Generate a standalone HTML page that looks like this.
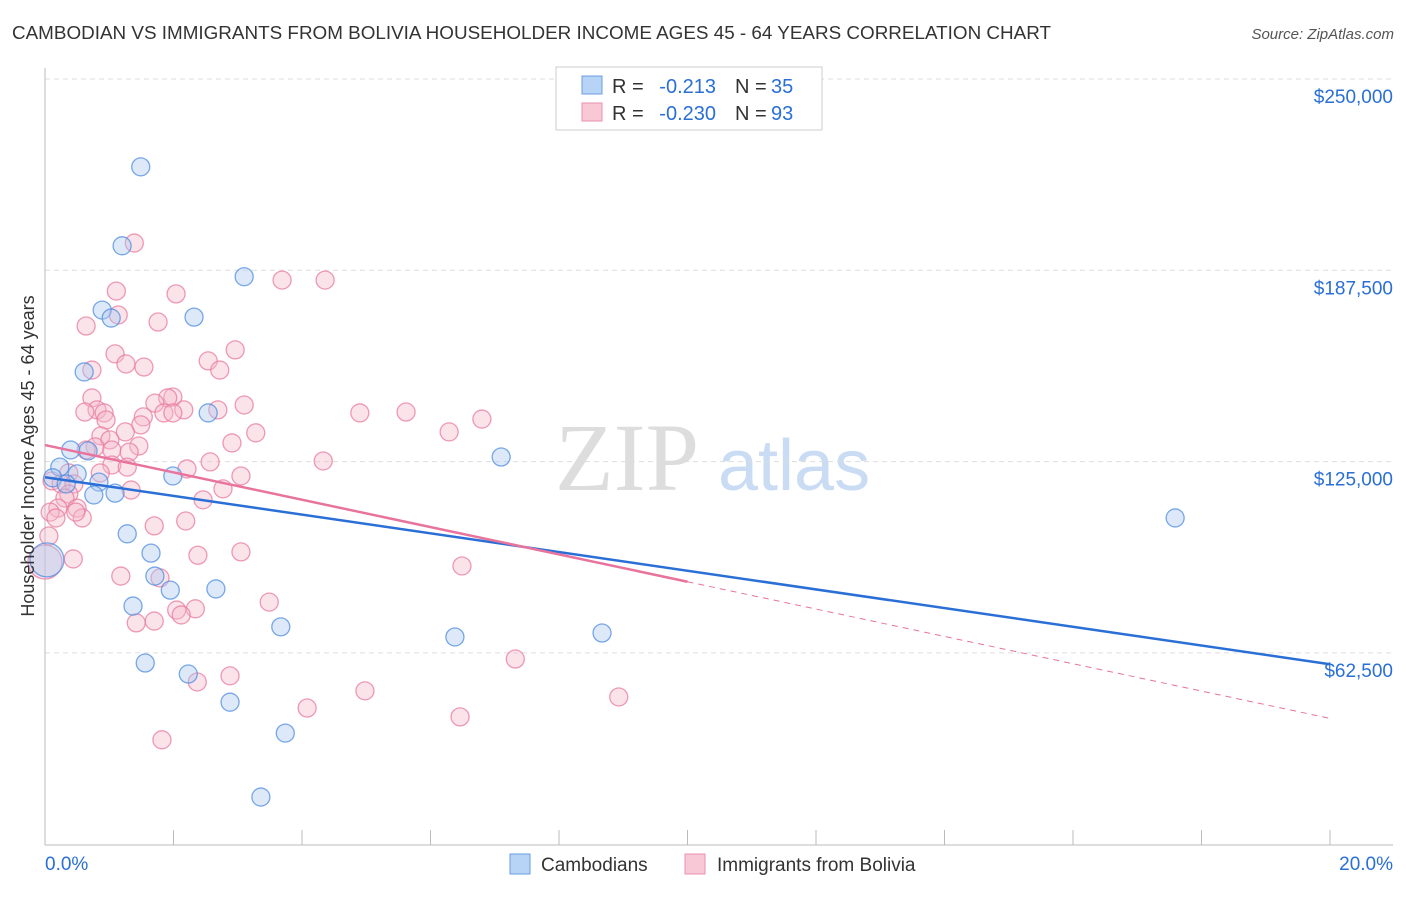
<!DOCTYPE html>
<html><head><meta charset="utf-8"><style>
body{margin:0;background:#fff;font-family:"Liberation Sans",sans-serif;}
</style></head><body>
<svg id="chart" width="1406" height="892" xmlns="http://www.w3.org/2000/svg" font-family="Liberation Sans, sans-serif">
<text x="12" y="39" font-size="18" fill="#333" textLength="1039" lengthAdjust="spacingAndGlyphs">CAMBODIAN VS IMMIGRANTS FROM BOLIVIA HOUSEHOLDER INCOME AGES 45 - 64 YEARS CORRELATION CHART</text>
<text x="1394" y="39" font-size="15" fill="#555" text-anchor="end" font-style="italic">Source: ZipAtlas.com</text>
<text x="555" y="490" font-size="96" fill="#ddd" font-family="Liberation Serif, serif">ZIP</text>
<text x="718" y="490" font-size="72" fill="#c9dcf3">atlas</text>
<g id="grid"></g>
<g id="axes"></g>
<g id="points"></g>
<g id="lines"></g>
<text transform="translate(34,456) rotate(-90)" font-size="18" fill="#333" text-anchor="middle">Householder Income Ages 45 - 64 years</text>
<g>
<rect x="556" y="67" width="266" height="63" fill="#fff" stroke="#ccc"/>
<rect x="582" y="76" width="20" height="18" fill="#b7d3f5" stroke="#6a9fe0"/>
<rect x="582" y="103" width="20" height="18" fill="#f9c8d7" stroke="#e890b0"/>
<text x="612" y="93" font-size="20" fill="#333">R =</text>
<text x="716" y="93" font-size="20" fill="#2a6fd6" text-anchor="end">-0.213</text>
<text x="735" y="93" font-size="20" fill="#333">N =</text>
<text x="771" y="93" font-size="20" fill="#2a6fd6">35</text>
<text x="612" y="120" font-size="20" fill="#333">R =</text>
<text x="716" y="120" font-size="20" fill="#2a6fd6" text-anchor="end">-0.230</text>
<text x="735" y="120" font-size="20" fill="#333">N =</text>
<text x="771" y="120" font-size="20" fill="#2a6fd6">93</text>
</g>
<g>
<rect x="510" y="854" width="20" height="20" fill="#b7d3f5" stroke="#6a9fe0"/>
<text x="541" y="871" font-size="19" fill="#333">Cambodians</text>
<rect x="685" y="854" width="20" height="20" fill="#f9c8d7" stroke="#e890b0"/>
<text x="717" y="871" font-size="19" fill="#333">Immigrants from Bolivia</text>
</g>
</svg>
<script>
const yTicks=[62500,125000,187500,250000];
const yTickLabels=["$62,500","$125,000","$187,500","$250,000"];
const xTickLabels=["0.0%","20.0%"];
const blueX=[1.49,1.20,3.10,0.89,1.03,2.32,0.61,2.54,0.40,0.67,0.23,0.50,0.12,0.33,0.84,1.09,0.76,1.99,7.10,17.59,1.28,1.65,1.71,1.95,2.66,1.37,3.67,6.38,8.67,1.56,2.23,2.88,3.74,3.36,0.03];
const blueY=[221.3,195.5,185.4,174.5,171.9,172.2,154.3,140.9,128.8,128.5,123.2,121.0,119.7,117.7,118.3,114.7,114.1,120.3,126.5,106.6,101.4,95.1,87.6,83.0,83.4,77.8,71.0,67.7,69.0,59.2,55.6,46.4,36.3,15.4,92.9];
const pinkX=[1.39,3.69,4.36,1.11,2.04,1.14,1.76,0.64,2.96,1.09,2.54,1.26,1.54,2.72,0.73,1.99,0.73,1.91,1.71,3.10,2.16,2.69,0.81,0.62,0.92,4.90,5.62,1.53,1.85,1.99,0.95,6.80,1.49,1.25,6.29,3.28,0.87,1.01,2.91,1.46,0.78,1.04,1.31,0.64,4.33,2.57,1.04,1.28,2.21,0.86,0.37,3.05,0.11,0.25,0.45,1.34,2.77,0.37,0.31,2.46,0.50,0.20,0.08,0.17,0.58,0.48,2.19,1.70,0.06,3.05,2.38,0.44,6.49,1.18,1.79,3.49,2.05,2.34,2.12,1.70,1.42,7.32,2.88,2.37,4.98,8.93,4.08,6.46,1.82,0.0];
const pinkY=[196.4,184.3,184.3,180.7,179.8,172.9,170.6,169.3,161.5,160.2,157.9,156.9,155.9,154.9,154.9,146.1,145.8,145.8,144.1,143.5,141.9,141.9,141.9,141.2,140.9,140.9,141.2,139.6,140.9,140.9,138.6,138.9,137.0,134.7,134.7,134.4,133.4,132.1,131.1,130.1,129.8,128.8,128.1,128.8,125.2,124.9,123.9,123.2,122.6,121.3,121.3,120.3,118.7,117.7,117.7,115.7,116.1,114.4,113.1,112.5,109.8,109.8,108.5,106.6,106.6,108.5,105.6,104.0,100.7,95.5,94.4,93.2,90.9,87.6,87.0,79.1,76.5,76.9,74.9,72.9,72.3,60.5,55.0,53.0,50.1,48.1,44.5,41.6,34.1,92.2];
const blueLine=[119.9,58.8];
const pinkLine=[130.4,41.1];
const pinkSolidEnd=10;
const NS="http://www.w3.org/2000/svg";
const X=p=>45+p*64.25;
const Y=v=>79+(250-v)/62.5*191.3;
function mk(tag,attrs,parent){const e=document.createElementNS(NS,tag);for(const k in attrs)e.setAttribute(k,attrs[k]);document.getElementById(parent).appendChild(e);return e;}
yTicks.forEach((t,i)=>{
 const g=mk('line',{x1:45,x2:1393,y1:Y(t/1000),y2:Y(t/1000),stroke:'#ddd','stroke-dasharray':'5,4'},'grid');
 
 
 const l=mk('text',{x:1393,y:Y(t/1000)+24,'font-size':19,fill:'#2a6fd6','text-anchor':'end'},'axes');
 l.textContent=yTickLabels[i];
 
 
});
let a=mk('line',{x1:45,x2:45,y1:68,y2:845,stroke:'#bbb'},'axes');


a=mk('line',{x1:45,x2:1393,y1:845,y2:845,stroke:'#bbb'},'axes');


for(let i=0;i<=10;i++){const t=mk('line',{x1:X(i*2),x2:X(i*2),y1:830,y2:845,stroke:'#bbb'},'axes');
 
 }
[[0,'start',45],[1,'end',1393]].forEach(([i,anc,x])=>{const t=mk('text',{x:x,y:870,'font-size':19,fill:'#2a6fd6','text-anchor':anc},'axes');t.textContent=xTickLabels[i];
 
 });
function pts(xs,ys,fill,stroke,name){xs.forEach((x,i)=>{const r=(i===xs.length-1)?17:9;
 const c=mk('circle',{cx:X(x),cy:Y(ys[i]),r:r,fill:fill,'fill-opacity':0.4,stroke:stroke,'stroke-opacity':0.75,'stroke-width':1.3},'points');
 
 });}
pts(pinkX,pinkY,'#f5b8cb','#e8799f','bolivia-point');
pts(blueX,blueY,'#a9c9f0','#4d8ce0','cambodian-point');
let ln=mk('line',{x1:X(0),y1:Y(blueLine[0]),x2:X(20),y2:Y(blueLine[1]),stroke:'#2a6fd6','stroke-width':2.5},'lines');


ln=mk('line',{x1:X(0),y1:Y(pinkLine[0]),x2:X(pinkSolidEnd),y2:Y(pinkLine[0]+(pinkLine[1]-pinkLine[0])*pinkSolidEnd/20),stroke:'#e8739c','stroke-width':2.5},'lines');


ln=mk('line',{x1:X(pinkSolidEnd),y1:Y(pinkLine[0]+(pinkLine[1]-pinkLine[0])*pinkSolidEnd/20),x2:X(20),y2:Y(pinkLine[1]),stroke:'#e8739c','stroke-width':1,'stroke-dasharray':'6,5'},'lines');


</script>
</body></html>
